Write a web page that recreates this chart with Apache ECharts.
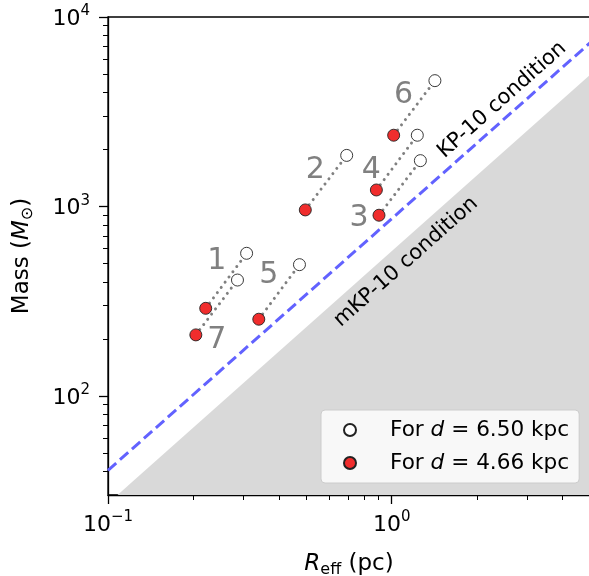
<!DOCTYPE html>
<html>
<head>
<meta charset="utf-8">
<script src="https://cdn.jsdelivr.net/npm/echarts@6/dist/echarts.min.js"></script>
<style>html,body{margin:0;padding:0;background:#fff}#c{width:589px;height:576px}</style>
</head>
<body>
<div id="c"></div>
<script>
// ---- data ----
const clumpIds = ['1', '2', '3', '4', '5', '6', '7'];
const reffNear = [0.221, 0.496, 0.902, 0.883, 0.340, 1.016, 0.204];   // d = 4.66 kpc
const massNear = [290, 959, 899, 1222, 254, 2377, 210];
const reffFar = [0.308, 0.694, 1.262, 1.231, 0.473, 1.420, 0.286];    // d = 6.50 kpc
const massFar = [566, 1860, 1745, 2377, 493, 4614, 409];
const kpLine = [[0.1, 40.5], [5, 7300]];          // KP-10 condition
const mkpLine = [[0.108, 30], [5, 4950]];         // mKP-10 condition
const kpTextAt = [2.45, 3650];
const mkpTextAt = [1.123, 509];
const xMajor = [0.1, 1];
const xMinor = [0.2, 0.3, 0.4, 0.5, 0.6, 0.7, 0.8, 0.9, 2, 3, 4];
const yMajor = [100, 1000, 10000];
const yMinor = [40, 50, 60, 70, 80, 90, 200, 300, 400, 500, 600, 700, 800, 900, 2000, 3000, 4000, 5000, 6000, 7000, 8000, 9000];
const nameFar = 'For d = 6.50 kpc';
const nameNear = 'For d = 4.66 kpc';

// ---- layout (pixel offsets of the number labels relative to the red points) ----
const idOffsets = [[11, -47], [10, -40], [-20, 3], [-5, -20], [10, -44], [10, -40], [21, 5]];

const FONT = 'DejaVu Sans';
function powLabel(v) {
  const e = Math.round(Math.log10(v));
  return '{b|10}{s|' + (e < 0 ? '\u2212' + (-e) : e) + '}';
}
const tickRich = {
  b: {fontSize: 22, fontFamily: FONT, color: '#000', lineHeight: 26, verticalAlign: 'bottom'},
  s: {fontSize: 15, fontFamily: FONT, color: '#000', lineHeight: 15, verticalAlign: 'top'}
};

const chart = echarts.init(document.getElementById('c'), null, {renderer: 'canvas'});
const nearPts = reffNear.map((x, i) => [x, massNear[i]]);
const farPts = reffFar.map((x, i) => [x, massFar[i]]);

const option = {
  animation: false,
  grid: {left: 108, top: 17, width: 482, height: 478, containLabel: false, outerBoundsMode: 'none',
    show: true, borderColor: '#000', borderWidth: 1.3, backgroundColor: 'transparent'},
  xAxis: [
    {type: 'log', logBase: 10, min: 0.1, max: 5, position: 'bottom',
      axisLine: {show: true, lineStyle: {color: '#000', width: 1.3}},
      axisTick: {show: true, inside: false, length: 9, lineStyle: {color: '#000', width: 1.3}, customValues: xMajor},
      axisLabel: {show: true, margin: 15, customValues: xMajor, formatter: powLabel, rich: tickRich},
      splitLine: {show: false}, minorTick: {show: false},
      name: '{i|R}{sub|eff}{n| (pc)}', nameLocation: 'middle', nameGap: 55,
      nameTextStyle: {rich: {
        i: {fontSize: 23, fontFamily: FONT, fontStyle: 'italic', color: '#000', lineHeight: 28, verticalAlign: 'middle'},
        sub: {fontSize: 16, fontFamily: FONT, color: '#000', lineHeight: 16, verticalAlign: 'bottom'},
        n: {fontSize: 23, fontFamily: FONT, color: '#000', lineHeight: 28, verticalAlign: 'middle'}
      }}
    },
    {type: 'log', logBase: 10, min: 0.1, max: 5, position: 'bottom', offset: 0,
      axisLine: {show: false},
      axisTick: {show: true, inside: false, length: 5, lineStyle: {color: '#000', width: 1}, customValues: xMinor},
      axisLabel: {show: false}, splitLine: {show: false}
    }
  ],
  yAxis: [
    {type: 'log', logBase: 10, min: 30, max: 10000, position: 'left',
      axisLine: {show: true, lineStyle: {color: '#000', width: 1.3}},
      axisTick: {show: true, inside: false, length: 9, lineStyle: {color: '#000', width: 1.3}, customValues: yMajor},
      axisLabel: {show: true, margin: 18, customValues: yMajor, formatter: powLabel, rich: tickRich},
      splitLine: {show: false}, minorTick: {show: false},
      name: '{n|Mass (}{i|M}{sub|\u2299}{n|)}', nameLocation: 'middle', nameGap: 72, nameRotate: 90,
      nameTextStyle: {rich: {
        i: {fontSize: 23, fontFamily: FONT, fontStyle: 'italic', color: '#000', lineHeight: 28, verticalAlign: 'middle'},
        sub: {fontSize: 16, fontFamily: FONT, color: '#000', lineHeight: 16, verticalAlign: 'bottom'},
        n: {fontSize: 23, fontFamily: FONT, color: '#000', lineHeight: 28, verticalAlign: 'middle'}
      }}
    },
    {type: 'log', logBase: 10, min: 30, max: 10000, position: 'left', offset: 0,
      axisLine: {show: false},
      axisTick: {show: true, inside: false, length: 5, lineStyle: {color: '#000', width: 1}, customValues: yMinor},
      axisLabel: {show: false}, splitLine: {show: false}
    }
  ],
  legend: {
    show: true, orient: 'vertical', left: 321, top: 410,
    data: [nameFar, nameNear],
    backgroundColor: 'rgba(255,255,255,0.8)', borderColor: '#cccccc', borderWidth: 1, borderRadius: 4,
    padding: [9, 10, 9, 22], itemWidth: 40, itemHeight: 12, itemGap: 11,
    formatter: function (name) {
      const rest = name.replace('For d', '');
      return '{n|For }{i|d}{n|' + rest + '}';
    },
    textStyle: {padding: [0, 0, 0, 15], rich: {
      n: {fontSize: 21.6, fontFamily: FONT, color: '#000', lineHeight: 22},
      i: {fontSize: 21.6, fontFamily: FONT, fontStyle: 'italic', color: '#000', lineHeight: 22}
    }}
  },
  series: [
    {type: 'line', name: 'mKP-10', data: mkpLine, symbol: 'none', silent: true, z: 1,
      lineStyle: {width: 0}, areaStyle: {origin: 'start', color: '#d9d9d9', opacity: 1},
      label: {show: false}},
    {type: 'line', name: 'KP-10', data: kpLine, symbol: 'none', silent: true, z: 2,
      lineStyle: {color: '#6262ff', width: 3, type: [11, 5]}},
    {type: 'scatter', name: 'KP text', data: [kpTextAt], symbolSize: 0, silent: true, z: 3,
      itemStyle: {opacity: 1},
      label: {show: true, position: 'inside', rotate: 41.6, formatter: 'KP-10 condition',
        fontSize: 21, fontFamily: FONT, color: '#000', opacity: 1}},
    {type: 'scatter', name: 'mKP text', data: [mkpTextAt], symbolSize: 0, silent: true, z: 3,
      itemStyle: {opacity: 1},
      label: {show: true, position: 'inside', rotate: 41.6, formatter: 'mKP-10 condition',
        fontSize: 21, fontFamily: FONT, color: '#000', opacity: 1}},
    {type: 'lines', name: 'pairs', coordinateSystem: 'cartesian2d', silent: true, z: 4,
      data: nearPts.map((p, i) => ({coords: [p, farPts[i]]})),
      lineStyle: {color: '#808080', width: 3, type: [0.01, 6.5], cap: 'round', opacity: 1}},
    {type: 'scatter', name: nameFar, data: farPts, symbol: 'circle', symbolSize: 12, z: 5,
      itemStyle: {color: '#ffffff', borderColor: '#222', borderWidth: 0.9, opacity: 1}},
    {type: 'scatter', name: nameNear, data: nearPts, symbol: 'circle', symbolSize: 12, z: 5,
      itemStyle: {color: '#f02d2d', borderColor: '#222', borderWidth: 0.9, opacity: 1}},
    {type: 'scatter', name: 'ids', silent: true, z: 6, symbolSize: 0, itemStyle: {opacity: 1},
      data: nearPts.map((p, i) => ({value: p, label: {offset: idOffsets[i], formatter: clumpIds[i]}})),
      label: {show: true, position: 'inside', fontSize: 30, fontFamily: FONT, color: '#808080', opacity: 1}}
  ]
};
chart.setOption(option);
</script>
</body>
</html>
